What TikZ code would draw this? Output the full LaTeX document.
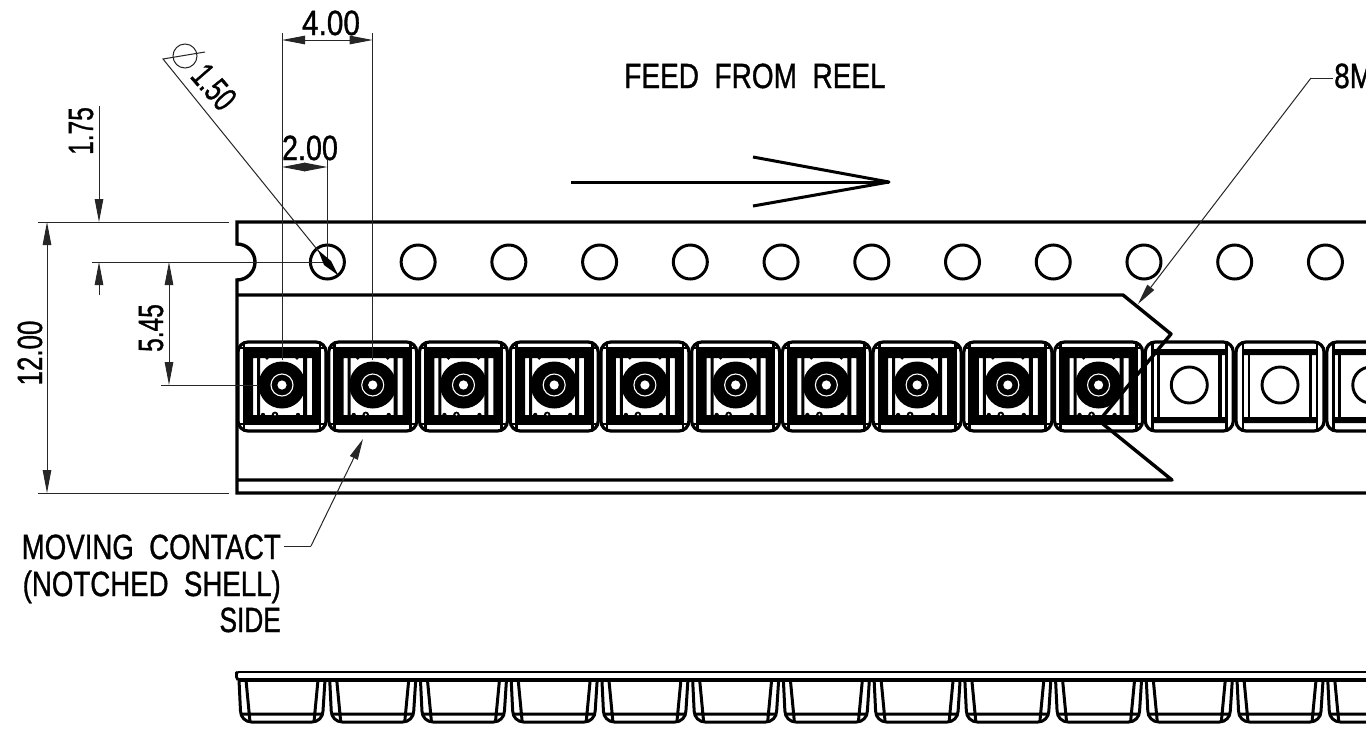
\documentclass[tikz,border=0pt]{standalone}
\usepackage{fontspec}
\usepackage{graphicx}
\setmainfont[FakeBold=1.1]{Liberation Sans}
\usetikzlibrary{arrows.meta}
\tikzset{
 thinl/.style={line width=1pt,black!85},
 tape/.style={line width=3.4pt,black},
 pk/.style={line width=3.2pt,black},
 dima/.style={thinl,{Triangle[length=23pt,width=8.5pt]}-{Triangle[length=23pt,width=8.5pt]}},
 tipa/.style={thinl,-{Triangle[length=23pt,width=8.5pt]}},
 leada/.style={thinl,-{Triangle[length=21pt,width=8.5pt]}},
 lab/.style={inner sep=0pt,font=\fontsize{35}{35}\selectfont},
}
\newcommand{\nar}[2]{\scalebox{#1}[1]{#2}}
\begin{document}
\begin{tikzpicture}[x=1pt,y=-1pt]
\useasboundingbox (0,0) rectangle (1366,729);
\clip (0,0) rectangle (1366,729);
\fill[white] (0,0) rectangle (1366,729);
% full pockets
\foreach \i in {0,...,9}{
 \begin{scope}[shift={(282+90.73*\i,385)}]
  \draw[pk,rounded corners=10pt] (-44,-43) rectangle (44,46);
  \fill[black,even odd rule] (-38,-37) rectangle (38,39)
     (-29,-27) rectangle (-25,30) (25,-27) rectangle (30,30)
     (-22,-27) rectangle (21,30);
  \draw[line width=2.8pt] (-44,-37) -- (44,-37) (-44,39) -- (44,39)
     (-38,-43) -- (-38,46) (38,-43) -- (38,46);
  \fill[black] (0,0) circle[radius=23.5];
  \draw[white,line width=1.1pt] (0,0) circle[radius=11];
  \fill[white] (0,0) circle[radius=4.6];
  \fill[black] (-7,30) circle[radius=3.4] (-19,30) circle[radius=2.2] (16,30) circle[radius=2.2]
     (-15,-27) circle[radius=1.8] (15,-27) circle[radius=1.8];
  \fill[white] (-7,29.5) circle[radius=1.1];
 \end{scope}
}
% empty pockets
\foreach \i in {10,11,12}{
 \begin{scope}[shift={(282+90.73*\i,385)}]
  \draw[pk,rounded corners=10pt] (-44,-43) rectangle (44,46);
  \fill[black] (-37,-36) rectangle (37,-30) (-37,32) rectangle (37,38);
  \draw[line width=2.8pt] (-37,-43) -- (-37,46) (37,-43) -- (37,46)
     (-31,-36) -- (-31,38);
  \draw[line width=3.6pt] (30.5,-36) -- (30.5,38);
  \draw[line width=2.9pt] (0,0) circle[radius=18];
 \end{scope}
}
% tape outline
\draw[tape] (1366,222) -- (237,222) -- (237,244) arc[start angle=-90,end angle=90,radius=18] -- (237,493) -- (1366,493);
\draw[tape,line join=round] (237,295) -- (1123,295) -- (1171,334) -- (1103,416);
\draw[tape,line join=round] (1098,420) -- (1172,480) -- (237,480);
% sprocket holes
\foreach \i in {0,...,11}{
  \draw[line width=3pt] (327.4+90.73*\i,262) circle[radius=17];
}
% side view
\draw[line width=2.8pt] (238,672) -- (1366,672);
\draw[line width=3.8pt] (238,680) -- (1366,680);
\draw[line width=2.8pt] (238,680) -- (236.5,677) -- (236.5,673) -- (238,672);
\foreach \i in {0,...,12}{
 \begin{scope}[shift={(282+90.73*\i,0)}]
  \draw[line width=3pt] (-43,680) -- (-41.5,711) arc[start angle=180,end angle=90,radius=11] -- (30,722) arc[start angle=90,end angle=0,radius=11] -- (43,680);
  \draw[line width=3pt] (-36,680) -- (-32,722) (36,680) -- (32,722) (-40,714) -- (40,714);
 \end{scope}
}
% extension lines
\coordinate (e4a) at (282,33); \coordinate (e4b) at (372.7,33);
\coordinate (p1) at (282,360); \coordinate (p2) at (372.7,360);
\coordinate (h1) at (327.4,262); \coordinate (e2) at (327.4,160);
\draw[thinl] (e4a) -- (p1) (e4b) -- (p2) (e2) -- (h1);
\draw[thinl] (38,222) -- (229,222);
\draw[thinl] (38,493) -- (229,493);
\draw[thinl] (92,262) -- (330,262);
\draw[thinl] (161,385) -- (258,385);
% dimensions
\draw[dima] (282,40) -- (372.7,40);
\draw[dima] (282,167) -- (327.4,167);
\draw[dima] (47,222) -- (47,493);
\draw[tipa] (99,106) -- (99,222);
\draw[tipa] (99,295) -- (99,262);
\draw[dima] (169,262) -- (169,385);
% diameter callout
\draw[thinl] (185,56) circle[radius=12];
\draw[thinl] (205,52) -- (163,59) -- (337,274);
\fill[black] (318,250) -- (331,261) -- (338,275) -- (324,265) -- cycle;
% feed arrow
\coordinate (ftail) at (571,182); \coordinate (ftip) at (889,182);
\draw[line width=3pt] (ftail) -- (ftip);
\draw[line width=3pt,line join=round] (753,157) -- (ftip) -- (753,206);
% leaders
\coordinate (l8a) at (1333,78); \coordinate (l8b) at (1311,78);\coordinate (l8c) at (1138,304);
\draw[thinl] (l8a) -- (l8b);
\draw[leada] (l8b) -- (l8c);
\coordinate (lma) at (284,546); \coordinate (lmb) at (311,546);\coordinate (lmc) at (363,439);
\draw[thinl] (lma) -- (lmb);
\draw[leada] (lmb) -- (lmc);
% labels
\node[lab,anchor=base] (t400) at (331,35) {\nar{0.85}{4.00}};
\node[lab,anchor=base] (t200) at (310,160) {\nar{0.82}{2.00}};
\node[lab,anchor=base,rotate=90] (t175) at (93,131) {\nar{0.7}{1.75}};
\node[lab,anchor=base,rotate=90] (t545) at (163,328) {\nar{0.7}{5.45}};
\node[lab,anchor=base,rotate=90] (t1200) at (42,353) {\nar{0.74}{12.00}};
\node[lab,rotate=-49] (t150) at (214,87) {\nar{0.7}{1.50}};
\node[lab,anchor=base] (tfeed) at (755,88) {\nar{0.8}{FEED\ \ FROM\ \ REEL}};
\node[lab,anchor=base west] (t8m) at (1334,88) {\nar{0.8}{8M}};
\node[lab,anchor=base east] (tm1) at (281,559) {\nar{0.79}{MOVING\ \ CONTACT}};
\node[lab,anchor=base east] (tm2) at (281,596) {\nar{0.79}{(NOTCHED\ \ SHELL)}};
\node[lab,anchor=base east] (tm3) at (281,632) {\nar{0.75}{SIDE}};
\end{tikzpicture}
\end{document}
